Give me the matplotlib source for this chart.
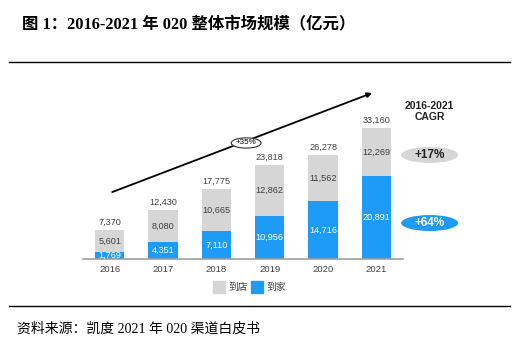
import matplotlib
matplotlib.use("Agg")
import matplotlib.pyplot as plt
from matplotlib.patches import Ellipse, Rectangle
from matplotlib.lines import Line2D

plt.rcParams['font.family'] = ['Liberation Sans', 'Noto Sans CJK SC', 'DejaVu Sans']
SERIF = ['Liberation Serif', 'Noto Sans CJK SC']

years = ['2016', '2017', '2018', '2019', '2020', '2021']
daojia = [1769, 4351, 7110, 10956, 14716, 20891]   # 到家
daodian = [5601, 8080, 10665, 12862, 11562, 12269]  # 到店
totals = [7370, 12430, 17775, 23818, 26278, 33160]

grey = '#D6D6D6'
blue = '#1E9AF7'
txt = '#404040'

W, H = 532, 340
fig = plt.figure(figsize=(W / 100, H / 100), dpi=100)

def fx(px):
    return px / W

def fy(py):
    return 1 - py / H

# title, rules, source
fig.text(fx(22), fy(24), '图 1：2016-2021 年 020 整体市场规模（亿元）', family=SERIF,
         fontsize=11.8, fontweight='bold', va='center', ha='left', color='black')
fig.add_artist(Line2D([fx(9), fx(510)], [fy(62), fy(62)], color='black', lw=1.0))
fig.add_artist(Line2D([fx(9), fx(510)], [fy(306), fy(306)], color='black', lw=1.0))
fig.text(fx(17), fy(329), '资料来源：凯度 2021 年 020 渠道白皮书', family=SERIF,
         fontsize=10, va='center', ha='left', color='black')

# bar axes: baseline at y=259px, x from 83 to 403px
ax = fig.add_axes([fx(83), fy(259), fx(403 - 83), (259 - 60) / H])
x = list(range(len(years)))
ax.bar(x, daojia, width=0.55, color=blue)
ax.bar(x, daodian, width=0.55, bottom=daojia, color=grey)
ax.set_xlim(-0.5, 5.5)
ax.set_ylim(0, 50380)
for s in ['top', 'right', 'left']:
    ax.spines[s].set_visible(False)
ax.spines['bottom'].set_color('#A0A0A0')
ax.spines['bottom'].set_linewidth(1.2)
ax.set_yticks([])
ax.set_xticks(x)
ax.set_xticklabels(years, fontsize=6.8, color=txt)
ax.tick_params(axis='x', length=0, pad=4)

fs = 6.6
for i in x:
    ax.text(i, daojia[i] / 2, f'{daojia[i]:,}', ha='center', va='center',
            fontsize=fs, color='white')
    ax.text(i, daojia[i] + daodian[i] / 2, f'{daodian[i]:,}', ha='center',
            va='center', fontsize=fs, color=txt)
    ax.text(i, totals[i] + 800, f'{totals[i]:,}', ha='center', va='bottom',
            fontsize=fs, color=txt)

# growth arrow
ax.annotate('', xy=(4.97, 42280), xytext=(0.0, 16700),
            arrowprops=dict(arrowstyle='-|>', color='black', lw=1.3,
                            mutation_scale=7), annotation_clip=False)
ax.add_patch(Ellipse((2.56, 29370), 0.56, 2600, facecolor='white',
                     edgecolor='#333333', lw=0.8, zorder=5, clip_on=False))
ax.text(2.56, 29370, '+35%', ha='center', va='center', fontsize=5.8,
        color='black', zorder=6)

# CAGR block
ax.text(6.0, 37300, '2016-2021\nCAGR', ha='center', va='center', fontsize=7.5,
        fontweight='bold', color='#222222', linespacing=1.1, clip_on=False)
ax.add_patch(Ellipse((6.0, 26330), 1.07, 4050, facecolor=grey,
                     edgecolor='none', clip_on=False))
ax.text(6.0, 26330, '+17%', ha='center', va='center', fontsize=8.5,
        fontweight='bold', color='#222222', clip_on=False)
ax.add_patch(Ellipse((6.0, 9110), 1.07, 4050, facecolor=blue,
                     edgecolor='none', clip_on=False))
ax.text(6.0, 9110, '+64%', ha='center', va='center', fontsize=8.5,
        fontweight='bold', color='white', clip_on=False)

# legend
fig.add_artist(Rectangle((fx(213), fy(293)), fx(12), 12 / H, color=grey))
fig.text(fx(228), fy(287), '到店', fontsize=7, va='center', color=txt)
fig.add_artist(Rectangle((fx(251), fy(293)), fx(12), 12 / H, color=blue))
fig.text(fx(266), fy(287), '到家', fontsize=7, va='center', color=txt)

fig.savefig('out.png', dpi=100)
